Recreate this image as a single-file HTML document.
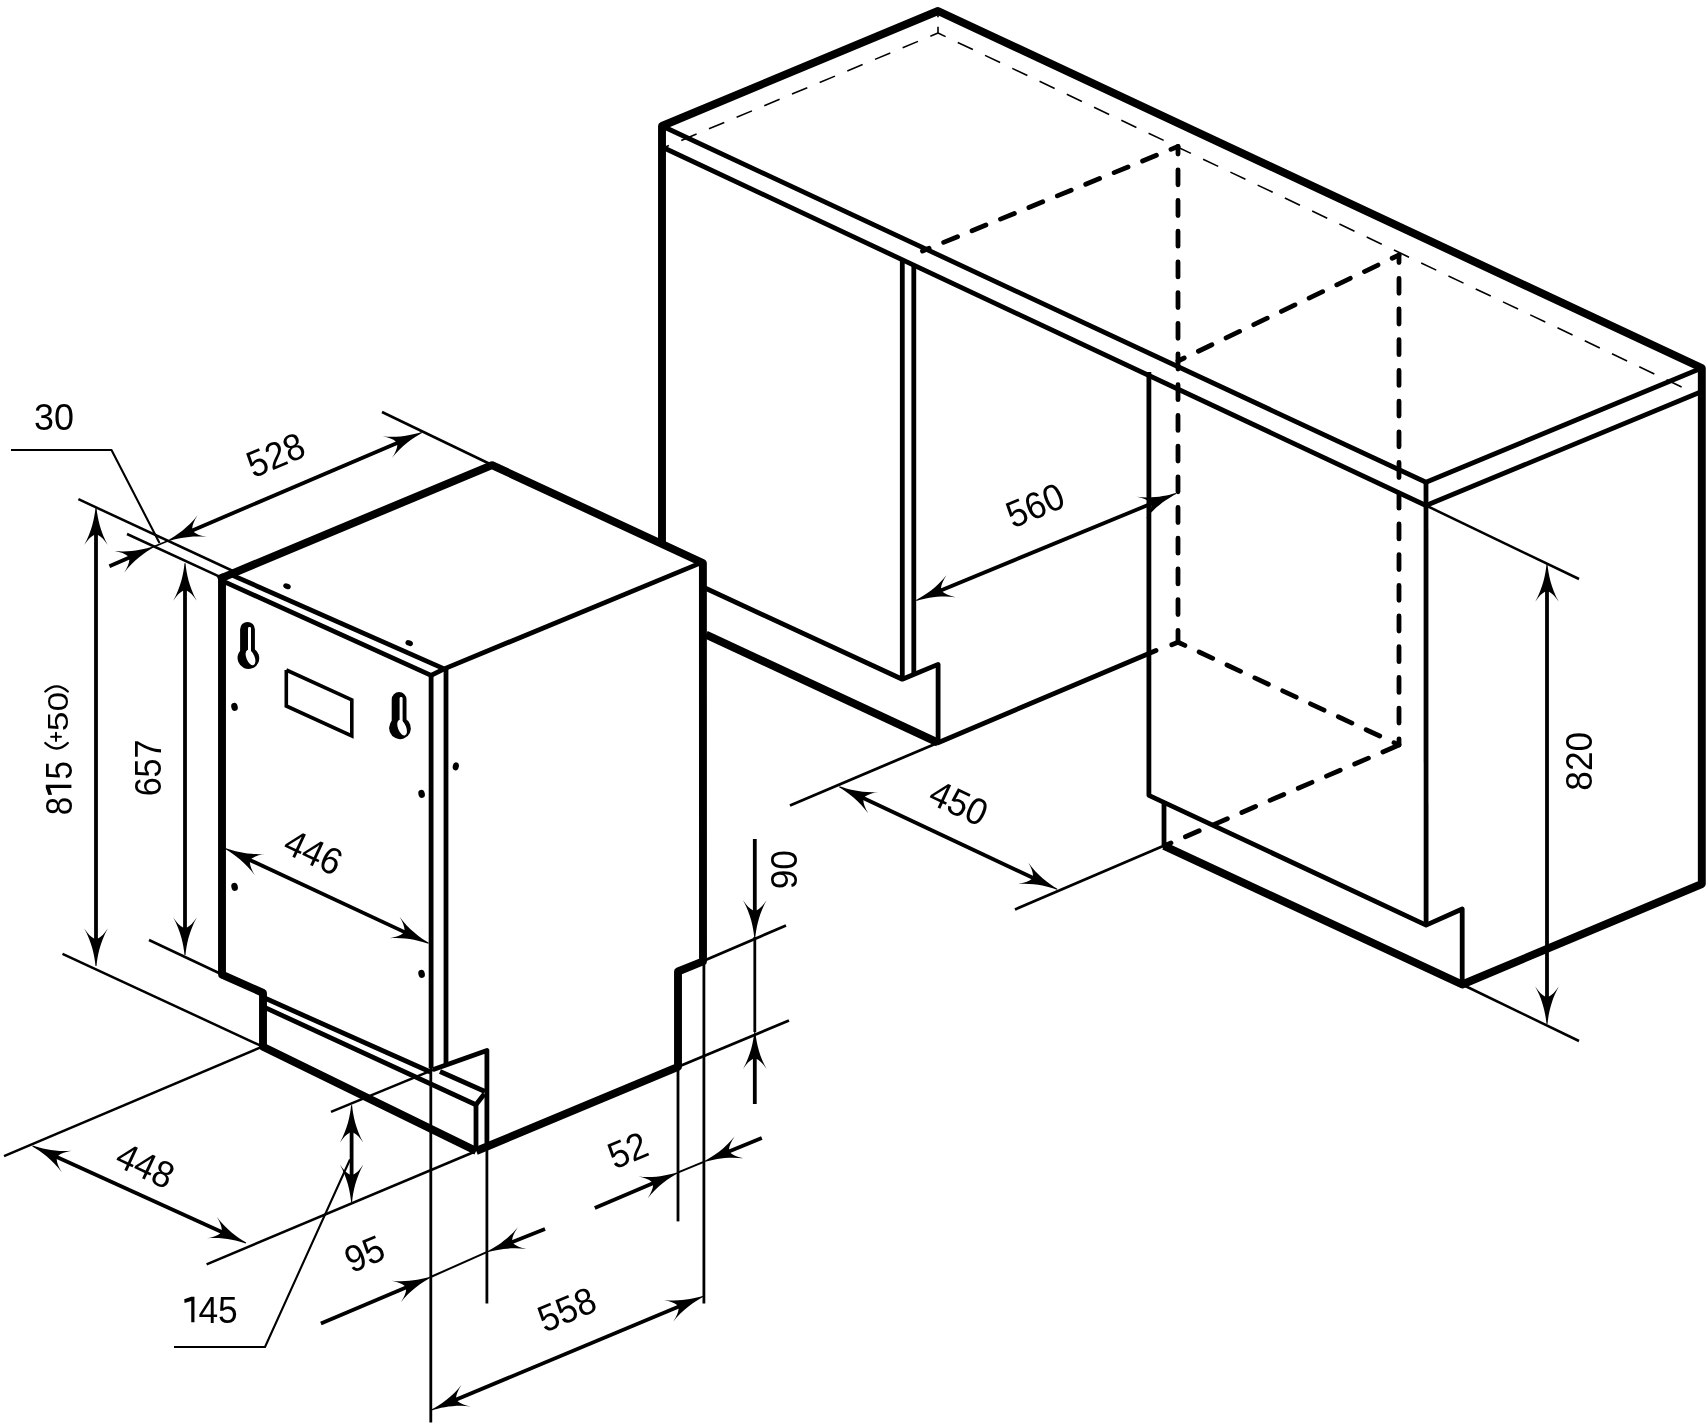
<!DOCTYPE html>
<html><head><meta charset="utf-8"><title>Dishwasher dimensions</title>
<style>html,body{margin:0;padding:0;background:#fff}svg{display:block;filter:grayscale(1)}text{font-family:"Liberation Sans",sans-serif;fill:#000;stroke:none}</style></head>
<body><svg width="1708" height="1424" viewBox="0 0 1708 1424" fill="none" stroke="#000">
<rect width="1708" height="1424" fill="#fff" stroke="none"/>
<path d="M662.0,545.0 L662.0,126.0 L938.0,11.0 L1701.8,368.0 L1701.8,884.0 L1462.2,984.5 L1164.0,845.9" stroke-width="7.9" stroke-linecap="butt" stroke-linejoin="round"/>
<path d="M662.0,126.0 L1426.0,482.3 L1701.8,368.0" stroke-width="4.8" stroke-linecap="butt" stroke-linejoin="round"/>
<path d="M662.0,147.0 L1426.0,505.5 L1701.8,391.5" stroke-width="4.8" stroke-linecap="butt" stroke-linejoin="round"/>
<path d="M1426.0,482.3 L1426.1,925.1" stroke-width="4.8" stroke-linecap="butt" stroke-linejoin="round"/>
<path d="M938.0,33.0 L662.0,148.5" stroke-width="1.6" stroke-linecap="butt" stroke-linejoin="round" stroke-dasharray="16.6 13.4" stroke-dashoffset="8.3"/>
<path d="M938.0,33.0 L1686.0,389.0" stroke-width="1.6" stroke-linecap="butt" stroke-linejoin="round" stroke-dasharray="16.7 13.49" stroke-dashoffset="8.3"/>
<path d="M938.0,33.0 L938.0,14.0" stroke-width="1.6" stroke-linecap="butt" stroke-linejoin="round" stroke-dasharray="6.3 9.5"/>
<path d="M902.3,260.0 L902.3,679.0" stroke-width="4.8" stroke-linecap="butt" stroke-linejoin="round"/>
<path d="M913.8,265.0 L913.8,674.0" stroke-width="4.8" stroke-linecap="butt" stroke-linejoin="round"/>
<path d="M705.0,588.0 L902.3,679.2 L938.1,664.4 L938.1,742.7" stroke-width="4.8" stroke-linecap="butt" stroke-linejoin="round"/>
<path d="M706.0,634.6 L938.0,742.7" stroke-width="7.9" stroke-linecap="butt" stroke-linejoin="round"/>
<path d="M938.0,742.7 L1156.0,650.5" stroke-width="4.8" stroke-linecap="round" stroke-linejoin="round"/>
<path d="M1178.0,642.2 L1171.8,644.8" stroke-width="4.8" stroke-linecap="round" stroke-linejoin="round"/>
<path d="M1148.9,372.0 L1148.9,795.3 L1426.1,925.1 L1462.2,909.0 L1462.2,984.5" stroke-width="4.8" stroke-linecap="butt" stroke-linejoin="round"/>
<path d="M1164.0,803.5 L1164.0,845.9" stroke-width="4.8" stroke-linecap="butt" stroke-linejoin="round"/>
<path d="M1178.0,146.5 L922.5,251.0" stroke-width="4.8" stroke-linecap="round" stroke-linejoin="round" stroke-dasharray="15 15.7" stroke-dashoffset="7.4"/>
<path d="M1178.0,146.5 L1178.0,642.2" stroke-width="4.8" stroke-linecap="round" stroke-linejoin="round" stroke-dasharray="15 15.7" stroke-dashoffset="7.4"/>
<path d="M1399.0,255.0 L1178.0,361.0" stroke-width="4.8" stroke-linecap="round" stroke-linejoin="round" stroke-dasharray="15 15.7" stroke-dashoffset="7.4"/>
<path d="M1399.0,255.0 L1399.0,745.0" stroke-width="4.8" stroke-linecap="round" stroke-linejoin="round" stroke-dasharray="15 15.7" stroke-dashoffset="7.4"/>
<path d="M1178.0,642.2 L1399.0,745.0" stroke-width="4.8" stroke-linecap="round" stroke-linejoin="round" stroke-dasharray="15 15.7" stroke-dashoffset="7.4"/>
<path d="M1164.0,845.9 L1399.0,745.0" stroke-width="4.8" stroke-linecap="round" stroke-linejoin="round" stroke-dasharray="15 15.7" stroke-dashoffset="7.4"/>
<path d="M929.2,595.2 L1163.1,498.8" stroke-width="3.8" stroke-linecap="butt" stroke-linejoin="round"/>
<path d="M-0.5,0 C-1.4,10 -4.2,24 -11.8,37.5 C-8.3,32.3 -5,29 -2,27.5 L2,27.5 C5,29 8.3,32.3 11.8,37.5 C4.2,24 1.4,10 0.5,0Z" transform="translate(916.3,600.5) rotate(247.61) scale(1.0)" fill="#000" stroke="none"/>
<path d="M-0.5,0 C-1.4,10 -4.2,24 -11.8,37.5 C-8.3,32.3 -5,29 -2,27.5 L2,27.5 C5,29 8.3,32.3 11.8,37.5 C4.2,24 1.4,10 0.5,0Z" transform="translate(1176.0,493.5) rotate(67.61) scale(1.0)" fill="#000" stroke="none"/>
<text transform="translate(1035.0,505.0) rotate(-23) scale(0.943,1.0)" font-size="37.5" text-anchor="middle" y="13.4">560</text>
<path d="M1426.0,505.5 L1579.0,579.0" stroke-width="2.5" stroke-linecap="butt" stroke-linejoin="round"/>
<path d="M1462.2,984.5 L1579.0,1041.0" stroke-width="2.5" stroke-linecap="butt" stroke-linejoin="round"/>
<path d="M1547.0,578.3 L1547.0,1010.0" stroke-width="3.8" stroke-linecap="butt" stroke-linejoin="round"/>
<path d="M-0.5,0 C-1.4,10 -4.2,24 -11.8,37.5 C-8.3,32.3 -5,29 -2,27.5 L2,27.5 C5,29 8.3,32.3 11.8,37.5 C4.2,24 1.4,10 0.5,0Z" transform="translate(1547.0,564.3) rotate(0.00) scale(1.0)" fill="#000" stroke="none"/>
<path d="M-0.5,0 C-1.4,10 -4.2,24 -11.8,37.5 C-8.3,32.3 -5,29 -2,27.5 L2,27.5 C5,29 8.3,32.3 11.8,37.5 C4.2,24 1.4,10 0.5,0Z" transform="translate(1547.0,1024.0) rotate(180.00) scale(1.0)" fill="#000" stroke="none"/>
<text transform="translate(1578.5,761.3) rotate(-90) scale(0.94,1.0)" font-size="37.5" text-anchor="middle" y="13.4">820</text>
<path d="M938.0,742.7 L790.0,805.5" stroke-width="2.8" stroke-linecap="butt" stroke-linejoin="round"/>
<path d="M1162.0,846.5 L1015.0,909.5" stroke-width="2.8" stroke-linecap="butt" stroke-linejoin="round"/>
<path d="M852.0,792.7 L1044.4,883.2" stroke-width="3.8" stroke-linecap="butt" stroke-linejoin="round"/>
<path d="M-0.5,0 C-1.4,10 -4.2,24 -11.8,37.5 C-8.3,32.3 -5,29 -2,27.5 L2,27.5 C5,29 8.3,32.3 11.8,37.5 C4.2,24 1.4,10 0.5,0Z" transform="translate(839.3,786.7) rotate(-64.80) scale(1.0)" fill="#000" stroke="none"/>
<path d="M-0.5,0 C-1.4,10 -4.2,24 -11.8,37.5 C-8.3,32.3 -5,29 -2,27.5 L2,27.5 C5,29 8.3,32.3 11.8,37.5 C4.2,24 1.4,10 0.5,0Z" transform="translate(1057.1,889.2) rotate(115.20) scale(1.0)" fill="#000" stroke="none"/>
<text transform="translate(959.0,802.5) rotate(25) scale(0.943,1.0)" font-size="37.5" text-anchor="middle" y="13.4">450</text>
<path d="M476.2,1151.0 L263.0,1046.7 L263.0,992.9 L222.0,974.6 L222.0,577.8 L492.0,465.1 L702.9,563.0 L703.0,961.4 L678.0,971.5 L678.0,1066.9 L476.2,1151.0" stroke-width="7.9" stroke-linecap="butt" stroke-linejoin="round"/>
<path d="M218.1,579.4 L224.0,577.0" stroke-width="7.9" stroke-linecap="butt" stroke-linejoin="round"/>
<path d="M699.0,563.6 L444.2,668.9" stroke-width="4.8" stroke-linecap="butt" stroke-linejoin="round"/>
<path d="M224.0,581.6 L431.1,675.4 L444.2,668.9" stroke-width="4.8" stroke-linecap="butt" stroke-linejoin="round"/>
<path d="M232.0,575.1 L444.2,668.9" stroke-width="4.8" stroke-linecap="butt" stroke-linejoin="round"/>
<path d="M431.1,675.4 L431.1,1068.0" stroke-width="4.8" stroke-linecap="butt" stroke-linejoin="round"/>
<path d="M446.0,669.0 L446.0,1065.0" stroke-width="4.8" stroke-linecap="butt" stroke-linejoin="round"/>
<path d="M263.0,997.3 L430.5,1072.0" stroke-width="4.8" stroke-linecap="butt" stroke-linejoin="round"/>
<path d="M263.0,1006.6 L475.9,1104.8 L484.3,1094.0" stroke-width="4.8" stroke-linecap="butt" stroke-linejoin="round"/>
<path d="M432.7,1069.8 L486.9,1050.4 L486.9,1143.0" stroke-width="4.8" stroke-linecap="butt" stroke-linejoin="round"/>
<path d="M440.0,1071.5 L485.0,1091.5" stroke-width="4.8" stroke-linecap="butt" stroke-linejoin="round"/>
<path d="M476.0,1104.8 L476.0,1148.0" stroke-width="4.8" stroke-linecap="butt" stroke-linejoin="round"/>
<path d="M286.3,670.0 L351.8,699.8 L351.8,736.0 L286.3,706.0 L286.3,670.0" stroke-width="3.6" stroke-linecap="butt" stroke-linejoin="miter"/>
<path d="M240.1,629.3 A7.4,7.4 0 0 1 254.9,629.3 L254.9,653.9 L240.1,653.9 Z" fill="#000" stroke="none"/>
<ellipse cx="248.4" cy="658.0" rx="10.8" ry="11" transform="rotate(-20 248.4 658.0)" fill="#000" stroke="none"/>
<rect x="248.0" y="626.9" width="3" height="27" rx="1.4" fill="#fff" stroke="none"/>
<ellipse cx="250.5" cy="657.5" rx="4.1" ry="8.2" transform="rotate(-22 250.5 657.5)" fill="#fff" stroke="none"/>
<path d="M391.7,699.5 A7.4,7.4 0 0 1 406.5,699.5 L406.5,724.1 L391.7,724.1 Z" fill="#000" stroke="none"/>
<ellipse cx="400.0" cy="728.2" rx="10.8" ry="11" transform="rotate(-20 400.0 728.2)" fill="#000" stroke="none"/>
<rect x="399.6" y="697.1" width="3" height="27" rx="1.4" fill="#fff" stroke="none"/>
<ellipse cx="402.1" cy="727.7" rx="4.1" ry="8.2" transform="rotate(-22 402.1 727.7)" fill="#fff" stroke="none"/>
<ellipse cx="287" cy="586.2" rx="3.9" ry="2.7" transform="rotate(22 287 586.2)" fill="#000" stroke="none"/>
<ellipse cx="409.2" cy="643.1" rx="3.9" ry="2.7" transform="rotate(22 409.2 643.1)" fill="#000" stroke="none"/>
<ellipse cx="234.5" cy="706.9" rx="3.2" ry="4.1" transform="rotate(-15 234.5 706.9)" fill="#000" stroke="none"/>
<ellipse cx="455.8" cy="766.4" rx="3.0" ry="4.1" transform="rotate(15 455.8 766.4)" fill="#000" stroke="none"/>
<ellipse cx="421.6" cy="793.9" rx="3.2" ry="4.1" transform="rotate(-15 421.6 793.9)" fill="#000" stroke="none"/>
<ellipse cx="234.6" cy="886.9" rx="3.2" ry="4.1" transform="rotate(-15 234.6 886.9)" fill="#000" stroke="none"/>
<ellipse cx="421.6" cy="973.9" rx="3.2" ry="4.1" transform="rotate(-15 421.6 973.9)" fill="#000" stroke="none"/>
<path d="M382.0,412.0 L490.0,464.0" stroke-width="2.5" stroke-linecap="butt" stroke-linejoin="round"/>
<path d="M78.4,499.2 L233.0,571.0" stroke-width="2.5" stroke-linecap="butt" stroke-linejoin="round"/>
<path d="M127.0,534.0 L219.5,576.7" stroke-width="2.5" stroke-linecap="butt" stroke-linejoin="round"/>
<path d="M180.6,535.4 L408.9,438.0" stroke-width="3.8" stroke-linecap="butt" stroke-linejoin="round"/>
<path d="M-0.5,0 C-1.4,10 -4.2,24 -11.8,37.5 C-8.3,32.3 -5,29 -2,27.5 L2,27.5 C5,29 8.3,32.3 11.8,37.5 C4.2,24 1.4,10 0.5,0Z" transform="translate(167.7,540.9) rotate(246.90) scale(1.0)" fill="#000" stroke="none"/>
<path d="M-0.5,0 C-1.4,10 -4.2,24 -11.8,37.5 C-8.3,32.3 -5,29 -2,27.5 L2,27.5 C5,29 8.3,32.3 11.8,37.5 C4.2,24 1.4,10 0.5,0Z" transform="translate(421.8,432.5) rotate(66.90) scale(1.0)" fill="#000" stroke="none"/>
<text transform="translate(275.5,454.6) rotate(-23) scale(0.943,1.0)" font-size="37.5" text-anchor="middle" y="13.4">528</text>
<path d="M11.0,450.0 L111.5,450.0 L159.5,543.0" stroke-width="2.1" stroke-linecap="butt" stroke-linejoin="round"/>
<path d="M109.4,566.3 L140.9,552.4" stroke-width="3.8" stroke-linecap="butt" stroke-linejoin="round"/>
<path d="M-0.5,0 C-1.4,10 -4.2,24 -11.8,37.5 C-8.3,32.3 -5,29 -2,27.5 L2,27.5 C5,29 8.3,32.3 11.8,37.5 C4.2,24 1.4,10 0.5,0Z" transform="translate(153.7,546.8) rotate(66.24) scale(1.0)" fill="#000" stroke="none"/>
<path d="M153.7,546.8 L167.7,540.9" stroke-width="1.6" stroke-linecap="butt" stroke-linejoin="round"/>
<text transform="translate(54.1,416.5) rotate(0) scale(0.958,1.0)" font-size="37.5" text-anchor="middle" y="13.4">30</text>
<path d="M96.0,521.5 L96.0,952.0" stroke-width="3.8" stroke-linecap="butt" stroke-linejoin="round"/>
<path d="M-0.5,0 C-1.4,10 -4.2,24 -11.8,37.5 C-8.3,32.3 -5,29 -2,27.5 L2,27.5 C5,29 8.3,32.3 11.8,37.5 C4.2,24 1.4,10 0.5,0Z" transform="translate(96.0,507.5) rotate(0.00) scale(1.0)" fill="#000" stroke="none"/>
<path d="M-0.5,0 C-1.4,10 -4.2,24 -11.8,37.5 C-8.3,32.3 -5,29 -2,27.5 L2,27.5 C5,29 8.3,32.3 11.8,37.5 C4.2,24 1.4,10 0.5,0Z" transform="translate(96.0,966.0) rotate(180.00) scale(1.0)" fill="#000" stroke="none"/>
<text transform="translate(58.4,788.2) rotate(-90) translate(-17.9,0) scale(0.88,1)" font-size="37.5" text-anchor="middle" y="13.4">8</text>
<path d="M3.40,-12.8 L0.20,-12.8 L-6.80,-10.20 L-6.50,-6.50 L0.20,-8.60 L0.20,12.8 L3.40,12.8 Z" transform="translate(58.6,788.2) rotate(-90)" fill="#000" stroke="none"/>
<text transform="translate(58.4,788.2) rotate(-90) translate(17.8,0) scale(0.88,1)" font-size="37.5" text-anchor="middle" y="13.4">5</text>
<text transform="translate(56.8,711.6) rotate(-90) scale(0.943,0.81)" font-size="37.5" text-anchor="middle" y="13.4">50</text>
<g transform="translate(56.8,717.5) rotate(-90)" stroke-width="2.3" stroke-linecap="round"><path d="M-25.5,-11.5 Q-36.5,0 -25.5,11"/><path d="M26,-11.5 Q36.3,0 26,11"/><path d="M-23.5,-0.8 L-15.2,-0.8 M-19.35,-5.7 L-19.35,4.2" stroke-width="2"/></g>
<path d="M62.5,953.8 L260.0,1045.4" stroke-width="2.5" stroke-linecap="butt" stroke-linejoin="round"/>
<path d="M185.0,577.3 L185.0,941.0" stroke-width="3.8" stroke-linecap="butt" stroke-linejoin="round"/>
<path d="M-0.5,0 C-1.4,10 -4.2,24 -11.8,37.5 C-8.3,32.3 -5,29 -2,27.5 L2,27.5 C5,29 8.3,32.3 11.8,37.5 C4.2,24 1.4,10 0.5,0Z" transform="translate(185.0,563.3) rotate(0.00) scale(1.0)" fill="#000" stroke="none"/>
<path d="M-0.5,0 C-1.4,10 -4.2,24 -11.8,37.5 C-8.3,32.3 -5,29 -2,27.5 L2,27.5 C5,29 8.3,32.3 11.8,37.5 C4.2,24 1.4,10 0.5,0Z" transform="translate(185.0,955.0) rotate(180.00) scale(1.0)" fill="#000" stroke="none"/>
<text transform="translate(147.9,767.9) rotate(-90) scale(0.909,1.0)" font-size="37.5" text-anchor="middle" y="13.4">657</text>
<path d="M149.0,940.0 L220.0,973.5" stroke-width="2.5" stroke-linecap="butt" stroke-linejoin="round"/>
<path d="M238.5,854.7 L415.9,937.4" stroke-width="3.8" stroke-linecap="butt" stroke-linejoin="round"/>
<path d="M-0.5,0 C-1.4,10 -4.2,24 -11.8,37.5 C-8.3,32.3 -5,29 -2,27.5 L2,27.5 C5,29 8.3,32.3 11.8,37.5 C4.2,24 1.4,10 0.5,0Z" transform="translate(225.8,848.8) rotate(-65.02) scale(1.0)" fill="#000" stroke="none"/>
<path d="M-0.5,0 C-1.4,10 -4.2,24 -11.8,37.5 C-8.3,32.3 -5,29 -2,27.5 L2,27.5 C5,29 8.3,32.3 11.8,37.5 C4.2,24 1.4,10 0.5,0Z" transform="translate(428.6,943.3) rotate(114.98) scale(1.0)" fill="#000" stroke="none"/>
<text transform="translate(313.6,851.8) rotate(25) scale(0.943,1.0)" font-size="37.5" text-anchor="middle" y="13.4">446</text>
<path d="M260.0,1047.6 L4.0,1156.2" stroke-width="2.5" stroke-linecap="butt" stroke-linejoin="round"/>
<path d="M474.0,1152.0 L206.6,1264.3" stroke-width="2.5" stroke-linecap="butt" stroke-linejoin="round"/>
<path d="M45.2,1151.8 L233.3,1237.2" stroke-width="3.8" stroke-linecap="butt" stroke-linejoin="round"/>
<path d="M-0.5,0 C-1.4,10 -4.2,24 -11.8,37.5 C-8.3,32.3 -5,29 -2,27.5 L2,27.5 C5,29 8.3,32.3 11.8,37.5 C4.2,24 1.4,10 0.5,0Z" transform="translate(32.5,1146.0) rotate(-65.57) scale(1.0)" fill="#000" stroke="none"/>
<path d="M-0.5,0 C-1.4,10 -4.2,24 -11.8,37.5 C-8.3,32.3 -5,29 -2,27.5 L2,27.5 C5,29 8.3,32.3 11.8,37.5 C4.2,24 1.4,10 0.5,0Z" transform="translate(246.0,1243.0) rotate(114.43) scale(1.0)" fill="#000" stroke="none"/>
<text transform="translate(145.6,1165.1) rotate(25) scale(0.943,1.0)" font-size="37.5" text-anchor="middle" y="13.4">448</text>
<path d="M331.0,1111.8 L433.0,1069.8" stroke-width="2.5" stroke-linecap="butt" stroke-linejoin="round"/>
<path d="M351.6,1119.2 L351.6,1188.1" stroke-width="3.8" stroke-linecap="butt" stroke-linejoin="round"/>
<path d="M-0.5,0 C-1.4,10 -4.2,24 -11.8,37.5 C-8.3,32.3 -5,29 -2,27.5 L2,27.5 C5,29 8.3,32.3 11.8,37.5 C4.2,24 1.4,10 0.5,0Z" transform="translate(351.6,1105.2) rotate(0.00) scale(1.0)" fill="#000" stroke="none"/>
<path d="M-0.5,0 C-1.4,10 -4.2,24 -11.8,37.5 C-8.3,32.3 -5,29 -2,27.5 L2,27.5 C5,29 8.3,32.3 11.8,37.5 C4.2,24 1.4,10 0.5,0Z" transform="translate(351.6,1202.1) rotate(180.00) scale(1.0)" fill="#000" stroke="none"/>
<path d="M174.0,1347.0 L265.0,1347.0 L350.0,1159.5" stroke-width="2.1" stroke-linecap="butt" stroke-linejoin="round"/>
<path d="M-16.15,-12.75 L-19.35,-12.75 L-26.35,-10.15 L-26.05,-6.45 L-19.35,-8.55 L-19.35,12.75 L-16.15,12.75 Z" transform="translate(210.6,1309.5) rotate(0)" fill="#000" stroke="none"/>
<text transform="translate(210.6,1309.5) rotate(0) translate(7.45,0) scale(0.943,1)" font-size="37.5" text-anchor="middle" y="13.4">45</text>
<path d="M430.8,1068.0 L430.8,1422.5" stroke-width="2.8" stroke-linecap="butt" stroke-linejoin="round"/>
<path d="M486.9,1143.0 L486.9,1303.5" stroke-width="2.8" stroke-linecap="butt" stroke-linejoin="round"/>
<path d="M320.9,1323.4 L417.8,1282.4" stroke-width="3.8" stroke-linecap="butt" stroke-linejoin="round"/>
<path d="M-0.5,0 C-1.4,10 -4.2,24 -11.8,37.5 C-8.3,32.3 -5,29 -2,27.5 L2,27.5 C5,29 8.3,32.3 11.8,37.5 C4.2,24 1.4,10 0.5,0Z" transform="translate(430.7,1277.0) rotate(67.09) scale(1.0)" fill="#000" stroke="none"/>
<path d="M545.0,1229.1 L500.3,1246.8" stroke-width="3.8" stroke-linecap="butt" stroke-linejoin="round"/>
<path d="M-0.5,0 C-1.4,10 -4.2,24 -11.8,37.5 C-8.3,32.3 -5,29 -2,27.5 L2,27.5 C5,29 8.3,32.3 11.8,37.5 C4.2,24 1.4,10 0.5,0Z" transform="translate(487.3,1251.9) rotate(248.44) scale(1.0)" fill="#000" stroke="none"/>
<path d="M430.7,1277.0 L487.3,1251.9" stroke-width="2.0" stroke-linecap="butt" stroke-linejoin="round"/>
<text transform="translate(364.3,1253.5) rotate(-23) scale(0.943,1.0)" font-size="37.5" text-anchor="middle" y="13.4">95</text>
<path d="M703.9,959.5 L703.9,1303.5" stroke-width="2.8" stroke-linecap="butt" stroke-linejoin="round"/>
<path d="M444.4,1404.6 L690.3,1301.7" stroke-width="3.8" stroke-linecap="butt" stroke-linejoin="round"/>
<path d="M-0.5,0 C-1.4,10 -4.2,24 -11.8,37.5 C-8.3,32.3 -5,29 -2,27.5 L2,27.5 C5,29 8.3,32.3 11.8,37.5 C4.2,24 1.4,10 0.5,0Z" transform="translate(431.5,1410.0) rotate(247.29) scale(1.0)" fill="#000" stroke="none"/>
<path d="M-0.5,0 C-1.4,10 -4.2,24 -11.8,37.5 C-8.3,32.3 -5,29 -2,27.5 L2,27.5 C5,29 8.3,32.3 11.8,37.5 C4.2,24 1.4,10 0.5,0Z" transform="translate(703.2,1296.3) rotate(67.29) scale(1.0)" fill="#000" stroke="none"/>
<text transform="translate(566.6,1309.1) rotate(-23) scale(0.943,1.0)" font-size="37.5" text-anchor="middle" y="13.4">558</text>
<path d="M678.0,1066.0 L678.0,1221.4" stroke-width="2.8" stroke-linecap="butt" stroke-linejoin="round"/>
<path d="M594.8,1208.0 L664.7,1178.2" stroke-width="3.8" stroke-linecap="butt" stroke-linejoin="round"/>
<path d="M-0.5,0 C-1.4,10 -4.2,24 -11.8,37.5 C-8.3,32.3 -5,29 -2,27.5 L2,27.5 C5,29 8.3,32.3 11.8,37.5 C4.2,24 1.4,10 0.5,0Z" transform="translate(677.6,1172.7) rotate(66.91) scale(1.0)" fill="#000" stroke="none"/>
<path d="M761.8,1138.1 L717.3,1156.3" stroke-width="3.8" stroke-linecap="butt" stroke-linejoin="round"/>
<path d="M-0.5,0 C-1.4,10 -4.2,24 -11.8,37.5 C-8.3,32.3 -5,29 -2,27.5 L2,27.5 C5,29 8.3,32.3 11.8,37.5 C4.2,24 1.4,10 0.5,0Z" transform="translate(704.3,1161.6) rotate(247.77) scale(1.0)" fill="#000" stroke="none"/>
<path d="M677.6,1172.7 L704.3,1161.6" stroke-width="2.0" stroke-linecap="butt" stroke-linejoin="round"/>
<text transform="translate(627.6,1149.8) rotate(-23) scale(0.943,1.0)" font-size="37.5" text-anchor="middle" y="13.4">52</text>
<path d="M705.0,960.3 L786.0,925.5" stroke-width="2.8" stroke-linecap="butt" stroke-linejoin="round"/>
<path d="M680.0,1066.0 L789.0,1020.5" stroke-width="2.8" stroke-linecap="butt" stroke-linejoin="round"/>
<path d="M754.8,839.0 L754.8,923.7" stroke-width="3.8" stroke-linecap="butt" stroke-linejoin="round"/>
<path d="M-0.5,0 C-1.4,10 -4.2,24 -11.8,37.5 C-8.3,32.3 -5,29 -2,27.5 L2,27.5 C5,29 8.3,32.3 11.8,37.5 C4.2,24 1.4,10 0.5,0Z" transform="translate(754.8,937.7) rotate(180.00) scale(1.0)" fill="#000" stroke="none"/>
<path d="M754.8,1104.0 L754.8,1045.5" stroke-width="3.8" stroke-linecap="butt" stroke-linejoin="round"/>
<path d="M-0.5,0 C-1.4,10 -4.2,24 -11.8,37.5 C-8.3,32.3 -5,29 -2,27.5 L2,27.5 C5,29 8.3,32.3 11.8,37.5 C4.2,24 1.4,10 0.5,0Z" transform="translate(754.8,1031.5) rotate(0.00) scale(1.0)" fill="#000" stroke="none"/>
<path d="M754.8,937.0 L754.8,1032.0" stroke-width="2.8" stroke-linecap="butt" stroke-linejoin="round"/>
<text transform="translate(783.6,869.7) rotate(-90) scale(0.943,1.0)" font-size="37.5" text-anchor="middle" y="13.4">90</text>
</svg></body></html>
